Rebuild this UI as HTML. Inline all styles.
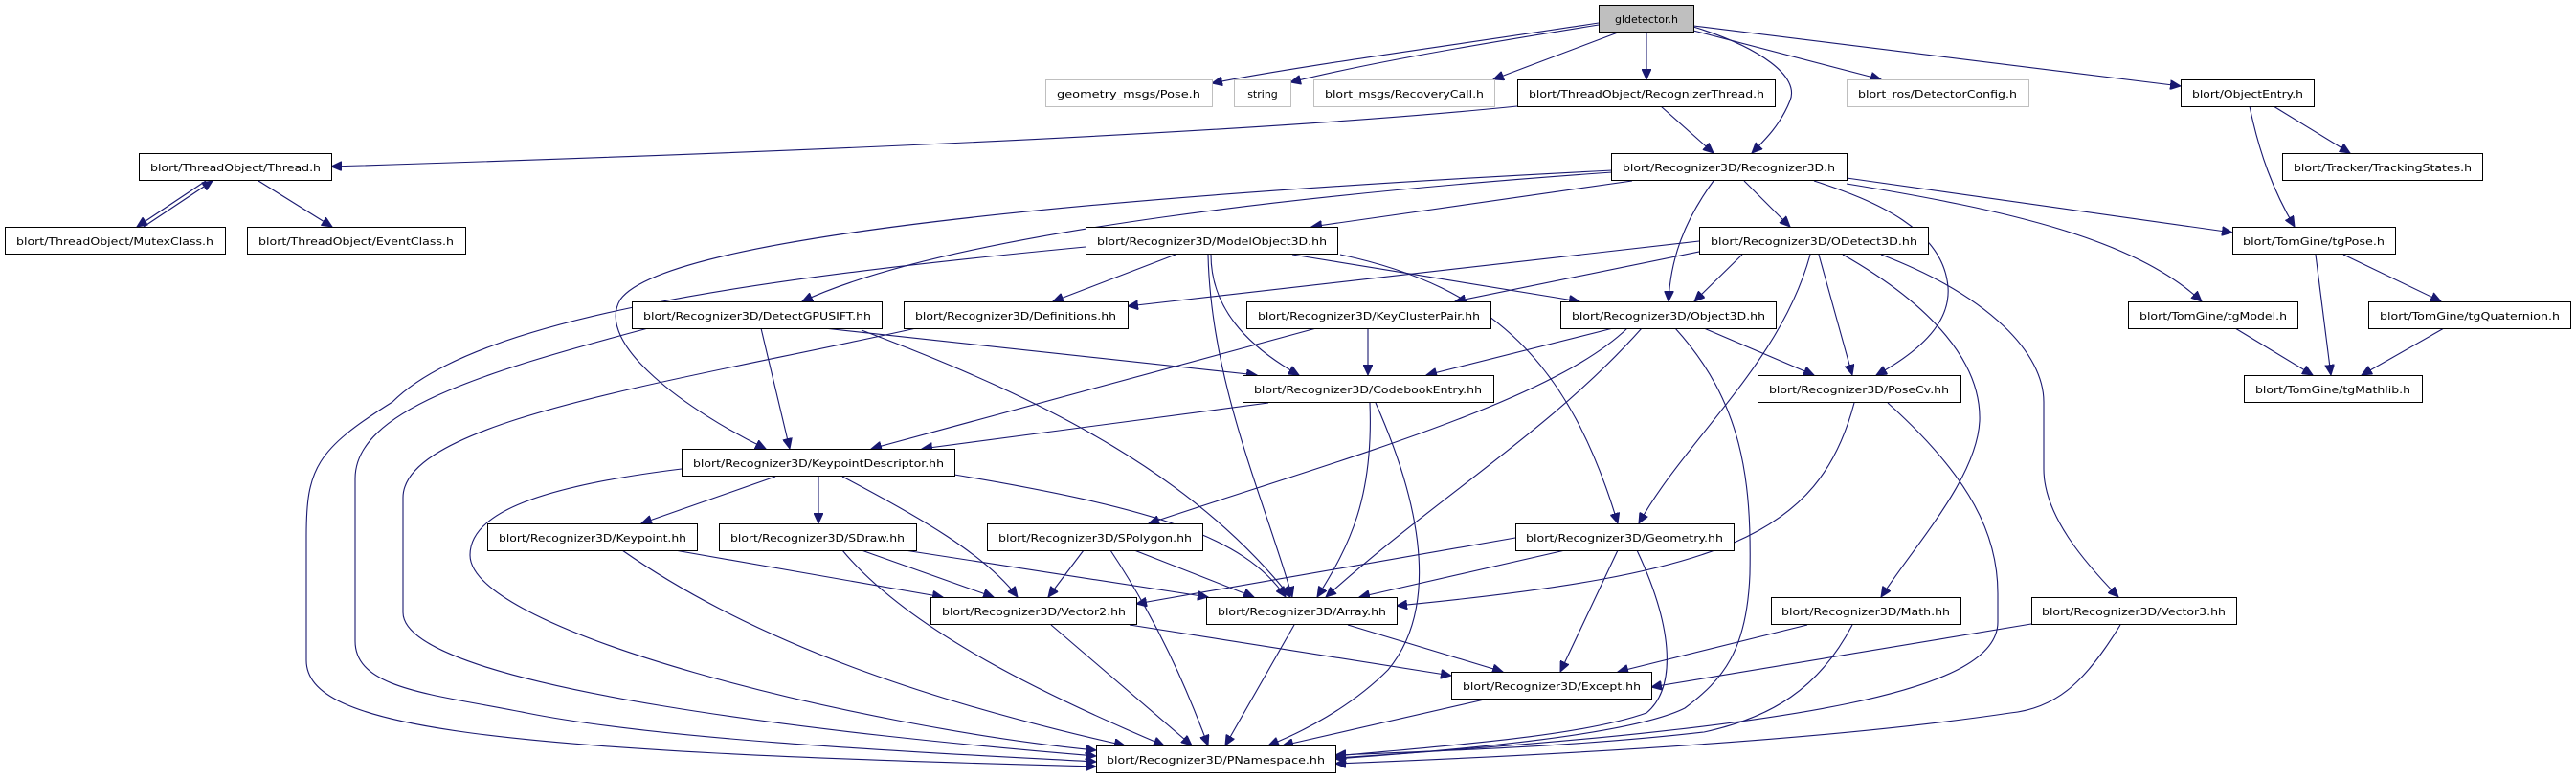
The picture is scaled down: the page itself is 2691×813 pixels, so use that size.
<!DOCTYPE html>
<html><head><meta charset="utf-8"><style>
html,body{margin:0;padding:0;background:#fff;}
svg{display:block;}
text{font-family:"DejaVu Sans","Liberation Sans",sans-serif;font-size:11px;fill:#000;}
.n{fill:#fff;stroke:#000;stroke-width:1;}
.g{fill:#fff;stroke:#bfbfbf;stroke-width:1;}
.e{fill:none;stroke:#191970;stroke-width:1.1;marker-end:url(#a);}
</style></head><body>
<svg width="2691" height="813" viewBox="0 0 2691 813" xmlns="http://www.w3.org/2000/svg">
<defs><marker id="a" markerUnits="userSpaceOnUse" markerWidth="12" markerHeight="10" refX="11" refY="5" orient="auto"><path d="M0,0 L11,5 L0,10 Z" fill="#191970" stroke="#191970"/></marker></defs>

<g>
<path class="e" d="M1670,24 C1500,50 1350,70 1266,87"/>
<path class="e" d="M1670,26 C1520,50 1420,68 1348,86"/>
<path class="e" d="M1690,34 L1560,83"/>
<path class="e" d="M1720,34 L1720,83"/>
<path class="e" d="M1769,28 C1840,50 1880,80 1870,105 C1860,130 1845,145 1830,160"/>
<path class="e" d="M1769,32 L1965,83"/>
<path class="e" d="M1769,27 L2278,90"/>
<path class="e" d="M1585,111 C1300,140 800,160 346,174"/>
<path class="e" d="M1735,111 L1790,160"/>
<path class="e" d="M215,189 L143,237"/>
<path class="e" d="M150,237 L222,189"/>
<path class="e" d="M270,189 L347,237"/>
<path class="e" d="M2375,111 L2455,160"/>
<path class="e" d="M2350,111 C2360,160 2375,200 2397,237"/>
<path class="e" d="M2448,266 L2550,315"/>
<path class="e" d="M2419,266 L2435,392"/>
<path class="e" d="M2335,343 L2416,392"/>
<path class="e" d="M2553,343 L2467,392"/>
<path class="e" d="M1705,189 L1370,237"/>
<path class="e" d="M1822,189 L1870,237"/>
<path class="e" d="M1790,189 C1760,230 1745,270 1743,315"/>
<path class="e" d="M1895,189 C1960,210 2030,240 2035,300 C2038,340 2000,370 1960,392"/>
<path class="e" d="M1929,186 L2332,243"/>
<path class="e" d="M1929,192 C2100,220 2230,250 2300,315"/>
<path class="e" d="M1684,180 C1400,200 1000,240 838,315"/>
<path class="e" d="M1684,178 C1250,200 700,240 648,313 C620,360 720,430 800,469"/>
<path class="e" d="M1228,266 L1100,315"/>
<path class="e" d="M1265,266 C1265,320 1300,360 1357,392"/>
<path class="e" d="M1262,266 C1265,400 1320,520 1350,624"/>
<path class="e" d="M1350,266 L1650,315"/>
<path class="e" d="M1400,266 C1560,300 1640,380 1690,547"/>
<path class="e" d="M1134,258 C800,290 500,330 410,420 C330,470 320,490 320,560 L320,690 C320,760 500,785 1145,801"/>
<path class="e" d="M1775,252 L1178,320"/>
<path class="e" d="M1780,262 L1520,315"/>
<path class="e" d="M1820,266 L1770,315"/>
<path class="e" d="M1900,266 L1935,392"/>
<path class="e" d="M1891,266 C1860,380 1760,460 1712,547"/>
<path class="e" d="M1925,266 C2020,320 2070,380 2068,440 C2065,500 2000,570 1965,624"/>
<path class="e" d="M1965,266 C2080,310 2135,370 2135,420 L2135,490 C2135,540 2180,590 2213,624"/>
<path class="e" d="M1685,343 L1490,392"/>
<path class="e" d="M1780,343 L1895,392"/>
<path class="e" d="M1700,343 C1620,420 1400,480 1200,547"/>
<path class="e" d="M1715,343 C1620,450 1500,520 1385,624"/>
<path class="e" d="M1750,343 C1820,420 1830,500 1828,600 C1825,680 1800,710 1760,740 C1700,770 1500,785 1395,793"/>
<path class="e" d="M1429,343 L1429,392"/>
<path class="e" d="M1375,343 L910,469"/>
<path class="e" d="M1325,421 L963,469"/>
<path class="e" d="M1431,421 C1435,520 1410,570 1376,624"/>
<path class="e" d="M1437,421 C1490,540 1500,640 1450,700 C1410,740 1360,765 1325,779"/>
<path class="e" d="M1937,421 C1900,560 1800,600 1459,633"/>
<path class="e" d="M1972,421 C2060,500 2087,560 2087,620 L2087,650 C2087,720 1900,760 1395,792"/>
<path class="e" d="M861,343 L1313,392"/>
<path class="e" d="M900,345 C1100,420 1250,500 1348,624"/>
<path class="e" d="M795,343 L825,469"/>
<path class="e" d="M677,343 C500,390 371,430 371,500 L371,670 C371,720 450,725 550,745 C700,775 1000,788 1145,796"/>
<path class="e" d="M957,343 C700,400 421,440 421,520 L421,640 C421,720 900,770 1145,790"/>
<path class="e" d="M810,498 L670,547"/>
<path class="e" d="M855,498 L855,547"/>
<path class="e" d="M880,498 C960,540 1030,580 1063,624"/>
<path class="e" d="M997,496 C1200,530 1300,560 1343,624"/>
<path class="e" d="M712,490 C550,510 491,540 491,580 C491,660 900,760 1145,784"/>
<path class="e" d="M705,575 L985,624"/>
<path class="e" d="M650,575 C800,680 1000,740 1175,779"/>
<path class="e" d="M900,575 L1038,624"/>
<path class="e" d="M945,575 L1262,624"/>
<path class="e" d="M880,575 C950,660 1100,730 1216,779"/>
<path class="e" d="M1132,575 L1095,624"/>
<path class="e" d="M1185,575 L1310,624"/>
<path class="e" d="M1160,575 C1210,650 1240,720 1262,779"/>
<path class="e" d="M1583,562 L1187,631"/>
<path class="e" d="M1635,575 L1420,624"/>
<path class="e" d="M1690,575 L1630,702"/>
<path class="e" d="M1710,575 C1750,660 1750,720 1720,745 C1650,770 1500,780 1395,790"/>
<path class="e" d="M1180,653 L1516,706"/>
<path class="e" d="M1098,653 L1245,779"/>
<path class="e" d="M1408,653 L1570,702"/>
<path class="e" d="M1352,653 L1280,779"/>
<path class="e" d="M1555,730 L1340,779"/>
<path class="e" d="M1888,653 L1690,702"/>
<path class="e" d="M1935,653 C1900,720 1850,750 1780,765 C1650,780 1500,785 1395,789"/>
<path class="e" d="M2122,652 L1725,718"/>
<path class="e" d="M2215,653 C2180,710 2150,740 2100,745 C1900,775 1600,790 1395,798"/>
</g>

<g>
<rect x="1670.5" y="5.5" width="99" height="28" style="fill:#bfbfbf;stroke:#000"/><text x="1720" y="24" text-anchor="middle">gldetector.h</text>

<rect class="g" x="1092.5" y="83.5" width="174" height="28"/><text x="1179" y="102" text-anchor="middle" textLength="150" lengthAdjust="spacingAndGlyphs">geometry_msgs/Pose.h</text>
<rect class="g" x="1289.5" y="83.5" width="59" height="28"/><text x="1319" y="102" text-anchor="middle">string</text>
<rect class="g" x="1372.5" y="83.5" width="189" height="28"/><text x="1467" y="102" text-anchor="middle" textLength="166" lengthAdjust="spacingAndGlyphs">blort_msgs/RecoveryCall.h</text>
<rect class="n" x="1585.5" y="83.5" width="269" height="28"/><text x="1720" y="102" text-anchor="middle" textLength="246" lengthAdjust="spacingAndGlyphs">blort/ThreadObject/RecognizerThread.h</text>
<rect class="g" x="1929.5" y="83.5" width="190" height="28"/><text x="2024" y="102" text-anchor="middle" textLength="166" lengthAdjust="spacingAndGlyphs">blort_ros/DetectorConfig.h</text>
<rect class="n" x="2278.5" y="83.5" width="139" height="28"/><text x="2348" y="102" text-anchor="middle" textLength="116" lengthAdjust="spacingAndGlyphs">blort/ObjectEntry.h</text>

<rect class="n" x="145.5" y="160.5" width="201" height="28"/><text x="246" y="179" text-anchor="middle" textLength="178" lengthAdjust="spacingAndGlyphs">blort/ThreadObject/Thread.h</text>
<rect class="n" x="1683.5" y="160.5" width="246" height="28"/><text x="1806" y="179" text-anchor="middle" textLength="222" lengthAdjust="spacingAndGlyphs">blort/Recognizer3D/Recognizer3D.h</text>
<rect class="n" x="2384.5" y="160.5" width="209" height="28"/><text x="2489" y="179" text-anchor="middle" textLength="186" lengthAdjust="spacingAndGlyphs">blort/Tracker/TrackingStates.h</text>

<rect class="n" x="5.5" y="237.5" width="230" height="28"/><text x="120" y="256" text-anchor="middle" textLength="206" lengthAdjust="spacingAndGlyphs">blort/ThreadObject/MutexClass.h</text>
<rect class="n" x="258.5" y="237.5" width="228" height="28"/><text x="372" y="256" text-anchor="middle" textLength="204" lengthAdjust="spacingAndGlyphs">blort/ThreadObject/EventClass.h</text>
<rect class="n" x="1134.5" y="237.5" width="263" height="28"/><text x="1266" y="256" text-anchor="middle" textLength="240" lengthAdjust="spacingAndGlyphs">blort/Recognizer3D/ModelObject3D.hh</text>
<rect class="n" x="1775.5" y="237.5" width="239" height="28"/><text x="1895" y="256" text-anchor="middle" textLength="216" lengthAdjust="spacingAndGlyphs">blort/Recognizer3D/ODetect3D.hh</text>
<rect class="n" x="2332.5" y="237.5" width="170" height="28"/><text x="2417" y="256" text-anchor="middle" textLength="148" lengthAdjust="spacingAndGlyphs">blort/TomGine/tgPose.h</text>

<rect class="n" x="660.5" y="315.5" width="261" height="28"/><text x="791" y="334" text-anchor="middle" textLength="238" lengthAdjust="spacingAndGlyphs">blort/Recognizer3D/DetectGPUSIFT.hh</text>
<rect class="n" x="944.5" y="315.5" width="234" height="28"/><text x="1061" y="334" text-anchor="middle" textLength="210" lengthAdjust="spacingAndGlyphs">blort/Recognizer3D/Definitions.hh</text>
<rect class="n" x="1302.5" y="315.5" width="255" height="28"/><text x="1430" y="334" text-anchor="middle" textLength="232" lengthAdjust="spacingAndGlyphs">blort/Recognizer3D/KeyClusterPair.hh</text>
<rect class="n" x="1630.5" y="315.5" width="225" height="28"/><text x="1743" y="334" text-anchor="middle" textLength="202" lengthAdjust="spacingAndGlyphs">blort/Recognizer3D/Object3D.hh</text>
<rect class="n" x="2223.5" y="315.5" width="177" height="28"/><text x="2312" y="334" text-anchor="middle" textLength="154" lengthAdjust="spacingAndGlyphs">blort/TomGine/tgModel.h</text>
<rect class="n" x="2474.5" y="315.5" width="211" height="28"/><text x="2580" y="334" text-anchor="middle" textLength="188" lengthAdjust="spacingAndGlyphs">blort/TomGine/tgQuaternion.h</text>

<rect class="n" x="1298.5" y="392.5" width="262" height="28"/><text x="1429" y="411" text-anchor="middle" textLength="238" lengthAdjust="spacingAndGlyphs">blort/Recognizer3D/CodebookEntry.hh</text>
<rect class="n" x="1836.5" y="392.5" width="212" height="28"/><text x="1942" y="411" text-anchor="middle" textLength="188" lengthAdjust="spacingAndGlyphs">blort/Recognizer3D/PoseCv.hh</text>
<rect class="n" x="2344.5" y="392.5" width="186" height="28"/><text x="2437" y="411" text-anchor="middle" textLength="162" lengthAdjust="spacingAndGlyphs">blort/TomGine/tgMathlib.h</text>

<rect class="n" x="712.5" y="469.5" width="285" height="28"/><text x="855" y="488" text-anchor="middle" textLength="262" lengthAdjust="spacingAndGlyphs">blort/Recognizer3D/KeypointDescriptor.hh</text>

<rect class="n" x="509.5" y="547.5" width="219" height="28"/><text x="619" y="566" text-anchor="middle" textLength="196" lengthAdjust="spacingAndGlyphs">blort/Recognizer3D/Keypoint.hh</text>
<rect class="n" x="751.5" y="547.5" width="206" height="28"/><text x="854" y="566" text-anchor="middle" textLength="182" lengthAdjust="spacingAndGlyphs">blort/Recognizer3D/SDraw.hh</text>
<rect class="n" x="1031.5" y="547.5" width="225" height="28"/><text x="1144" y="566" text-anchor="middle" textLength="202" lengthAdjust="spacingAndGlyphs">blort/Recognizer3D/SPolygon.hh</text>
<rect class="n" x="1583.5" y="547.5" width="228" height="28"/><text x="1697" y="566" text-anchor="middle" textLength="206" lengthAdjust="spacingAndGlyphs">blort/Recognizer3D/Geometry.hh</text>

<rect class="n" x="972.5" y="624.5" width="215" height="28"/><text x="1080" y="643" text-anchor="middle" textLength="192" lengthAdjust="spacingAndGlyphs">blort/Recognizer3D/Vector2.hh</text>
<rect class="n" x="1260.5" y="624.5" width="199" height="28"/><text x="1360" y="643" text-anchor="middle" textLength="176" lengthAdjust="spacingAndGlyphs">blort/Recognizer3D/Array.hh</text>
<rect class="n" x="1850.5" y="624.5" width="198" height="28"/><text x="1949" y="643" text-anchor="middle" textLength="176" lengthAdjust="spacingAndGlyphs">blort/Recognizer3D/Math.hh</text>
<rect class="n" x="2122.5" y="624.5" width="214" height="28"/><text x="2229" y="643" text-anchor="middle" textLength="192" lengthAdjust="spacingAndGlyphs">blort/Recognizer3D/Vector3.hh</text>

<rect class="n" x="1516.5" y="702.5" width="209" height="28"/><text x="1621" y="721" text-anchor="middle" textLength="186" lengthAdjust="spacingAndGlyphs">blort/Recognizer3D/Except.hh</text>

<rect class="n" x="1145.5" y="779.5" width="250" height="28"/><text x="1270" y="798" text-anchor="middle" textLength="228" lengthAdjust="spacingAndGlyphs">blort/Recognizer3D/PNamespace.hh</text>
</g>
</svg>
</body></html>
